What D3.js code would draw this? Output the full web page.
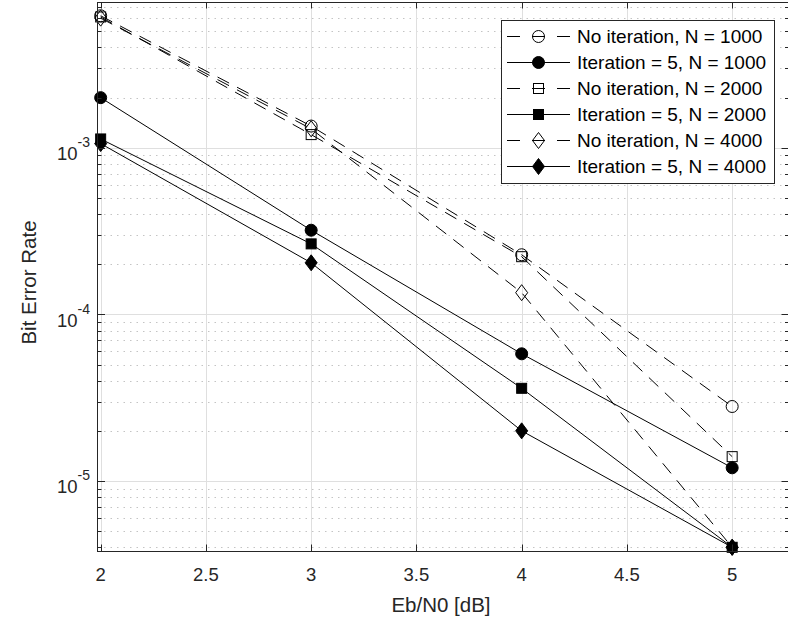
<!DOCTYPE html>
<html>
<head>
<meta charset="utf-8">
<script src="https://cdn.jsdelivr.net/npm/d3@7"></script>
<style>
  html, body { margin: 0; padding: 0; background: #fff; }
  svg { display: block; font-family: "Liberation Sans", Arial, Helvetica, sans-serif; }
</style>
</head>
<body>
<svg id="chart" width="788" height="625"></svg>
<script>
// Eb/N0 sample points [dB]
const ebn0 = [2, 3, 4, 5];

// Bit error rate for each configuration
const noIter1000 = [6.2e-3, 1.35e-3, 2.28e-4, 2.8e-5];
const iter1000   = [2.0e-3, 3.2e-4, 5.8e-5, 1.2e-5];
const noIter2000 = [6.1e-3, 1.2e-3, 2.22e-4, 1.4e-5];
const iter2000   = [1.13e-3, 2.65e-4, 3.6e-5, 4.0e-6];
const noIter4000 = [6.0e-3, 1.3e-3, 1.35e-4, 4.0e-6];
const iter4000   = [1.06e-3, 2.04e-4, 2.0e-5, 4.0e-6];

const seriesNames = [
  "No iteration, N = 1000",
  "Iteration = 5, N = 1000",
  "No iteration, N = 2000",
  "Iteration = 5, N = 2000",
  "No iteration, N = 4000",
  "Iteration = 5, N = 4000"
];

const xTicks = [2, 2.5, 3, 3.5, 4, 4.5, 5];
const yMajorExponents = [-5, -4, -3];

// dashed lines with open markers: no iteration; solid with filled markers: 5 iterations
const series = [
  { name: seriesNames[0], values: noIter1000, dashed: true,  marker: "circle",  filled: false },
  { name: seriesNames[1], values: iter1000,   dashed: false, marker: "circle",  filled: true },
  { name: seriesNames[2], values: noIter2000, dashed: true,  marker: "square",  filled: false },
  { name: seriesNames[3], values: iter2000,   dashed: false, marker: "square",  filled: true },
  { name: seriesNames[4], values: noIter4000, dashed: true,  marker: "diamond", filled: false },
  { name: seriesNames[5], values: iter4000,   dashed: false, marker: "diamond", filled: true }
];

const box = { left: 97.5, right: 789, top: 2, bottom: 551 };
const ink = "#262626";
const dashPattern = "13,9";

const svg = d3.select("#chart");

const x = d3.scaleLinear().domain([1.985, 5.27]).range([box.left, box.right]);
const y = d3.scaleLog().domain([3.8e-6, 7.5e-3]).range([box.bottom, box.top]);

// minor log ticks (2..9 x decade) inside the domain
const [yLo, yHi] = y.domain();
const minorTicks = [];
for (let e = -6; e <= -2; e++) {
  for (let m = 2; m <= 9; m++) {
    const v = m * Math.pow(10, e);
    if (v > yLo && v < yHi) minorTicks.push(v);
  }
}
const majorTicks = yMajorExponents.map(e => Math.pow(10, e));
const py = v => Math.round(y(v)) + 0.5;
const px = v => Math.round(x(v)) + 0.5;

const grid = svg.append("g");
// minor horizontal grid (dotted)
grid.selectAll("line.minor").data(minorTicks).join("line")
  .attr("x1", box.left).attr("x2", box.right)
  .attr("y1", py).attr("y2", py)
  .attr("stroke", "#c4c4c4").attr("stroke-width", 1)
  .attr("stroke-dasharray", "1.5,5");
// major grid
grid.selectAll("line.majorY").data(majorTicks).join("line")
  .attr("x1", box.left).attr("x2", box.right)
  .attr("y1", py).attr("y2", py)
  .attr("stroke", "#dfdfdf").attr("stroke-width", 1);
grid.selectAll("line.majorX").data(xTicks).join("line")
  .attr("x1", px).attr("x2", px)
  .attr("y1", box.top).attr("y2", box.bottom)
  .attr("stroke", "#dfdfdf").attr("stroke-width", 1);

// data lines
const line = d3.line().x((d, i) => x(ebn0[i])).y(d => y(d));
const plot = svg.append("g");
series.forEach(s => {
  plot.append("path")
    .attr("d", line(s.values))
    .attr("fill", "none")
    .attr("stroke", "#000")
    .attr("stroke-width", 1)
    .attr("stroke-dasharray", s.dashed ? dashPattern : null);
});

function drawMarker(g, type, filled, cx, cy) {
  const fill = filled ? "#000" : "none";
  let el;
  if (type === "circle") {
    el = g.append("circle").attr("cx", cx).attr("cy", cy).attr("r", 6);
  } else if (type === "square") {
    el = g.append("rect").attr("x", cx - 5).attr("y", cy - 5).attr("width", 10).attr("height", 10);
  } else {
    el = g.append("path").attr("d", `M${cx},${cy - 8}L${cx + 6},${cy}L${cx},${cy + 8}L${cx - 6},${cy}Z`);
  }
  el.attr("fill", fill).attr("stroke", "#000").attr("stroke-width", 1);
}

series.forEach(s => {
  s.values.forEach((v, i) => drawMarker(plot, s.marker, s.filled, x(ebn0[i]), y(v)));
});

// axes box
const axes = svg.append("g").attr("stroke", ink).attr("stroke-width", 1).attr("fill", "none");
axes.append("rect")
  .attr("x", box.left).attr("y", box.top + 0.5)
  .attr("width", box.right - box.left).attr("height", box.bottom - box.top);

// y ticks (inward, both sides)
majorTicks.forEach(v => {
  axes.append("line").attr("x1", box.left).attr("x2", box.left + 7.5).attr("y1", py(v)).attr("y2", py(v));
  axes.append("line").attr("x1", box.right).attr("x2", box.right - 7.5).attr("y1", py(v)).attr("y2", py(v));
});
minorTicks.forEach(v => {
  axes.append("line").attr("x1", box.left).attr("x2", box.left + 4).attr("y1", py(v)).attr("y2", py(v));
  axes.append("line").attr("x1", box.right).attr("x2", box.right - 4).attr("y1", py(v)).attr("y2", py(v));
});
// x ticks (inward, bottom and top)
xTicks.forEach(v => {
  axes.append("line").attr("x1", px(v)).attr("x2", px(v)).attr("y1", box.bottom).attr("y2", box.bottom - 6.5);
  axes.append("line").attr("x1", px(v)).attr("x2", px(v)).attr("y1", box.top).attr("y2", box.top + 6.5);
});

// tick labels
const labels = svg.append("g").attr("fill", ink);
labels.selectAll("text.xt").data(xTicks).join("text")
  .attr("x", d => x(d)).attr("y", 580.5)
  .attr("text-anchor", "middle").attr("font-size", 18.5)
  .text(d => d3.format("")(d));

yMajorExponents.forEach(e => {
  const t = labels.append("text")
    .attr("x", 90).attr("y", y(Math.pow(10, e)) + 12.5)
    .attr("text-anchor", "end").attr("font-size", 18.5);
  t.append("tspan").text("10");
  t.append("tspan").attr("dy", -13).attr("font-size", 14).text(String(e));
});

// axis titles
labels.append("text")
  .attr("x", 441).attr("y", 612)
  .attr("text-anchor", "middle").attr("font-size", 20.5)
  .text("Eb/N0 [dB]");
labels.append("text")
  .attr("transform", `translate(36,${(box.top + box.bottom) / 2 + 6}) rotate(-90)`)
  .attr("text-anchor", "middle").attr("font-size", 20.5)
  .text("Bit Error Rate");

// legend
const leg = svg.append("g");
const lg = { x: 501, y: 20, w: 273, h: 163 };
leg.append("rect")
  .attr("x", lg.x + 0.5).attr("y", lg.y + 0.5).attr("width", lg.w).attr("height", lg.h)
  .attr("fill", "#fff").attr("stroke", ink).attr("stroke-width", 1);
series.forEach((s, i) => {
  const cy = 36.5 + i * 26;
  leg.append("line")
    .attr("x1", 507).attr("x2", 570).attr("y1", cy).attr("y2", cy)
    .attr("stroke", "#000").attr("stroke-width", 1)
    .attr("stroke-dasharray", s.dashed ? "13,12" : null);
  drawMarker(leg, s.marker, s.filled, 538.5, cy);
  leg.append("text")
    .attr("x", 577).attr("y", cy + 6.5)
    .attr("font-size", 19).attr("fill", "#000")
    .text(s.name);
});
</script>
</body>
</html>
